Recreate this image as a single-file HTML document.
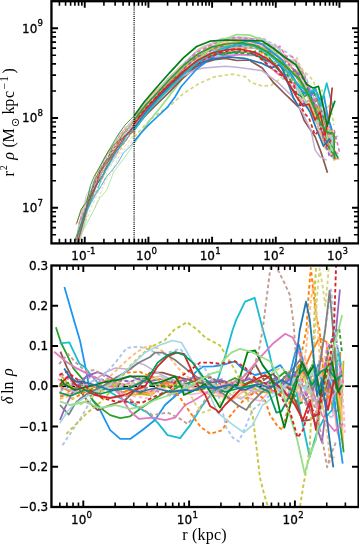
<!DOCTYPE html><html><head><meta charset="utf-8"><title>r (kpc)</title><style>html,body{margin:0;padding:0;background:#fff}svg{display:block}</style></head><body><svg width="359" height="544" viewBox="0 0 359 544"><defs><clipPath id="c1"><rect x="51.45" y="1.20" width="307.15" height="242.20"/></clipPath><clipPath id="c2"><rect x="51.45" y="265.50" width="307.15" height="241.50"/></clipPath></defs><rect width="359" height="544" fill="#fff"/><g fill="none" stroke-linejoin="round" stroke-linecap="butt">
<g clip-path="url(#c1)">
<polyline points="75.8,255.3 83.6,229.1 87.7,208.2 94.0,191.0 100.3,176.2 107.1,165.3 112.0,153.0 120.4,147.9 125.4,136.0 130.9,129.7 134.2,126.0" stroke="rgb(174,199,232)" stroke-width="0.75"/>
<polyline points="134.2,126.0 137.0,122.7 143.1,114.8 149.2,108.0 155.3,102.6 161.4,96.9 167.5,90.5 173.6,84.2 179.7,78.6 185.8,73.2 191.9,68.9 198.0,63.6 204.1,60.7 210.2,58.5 216.3,56.8 222.4,55.8 228.5,54.9 234.6,55.3 240.7,54.4 246.8,55.5 252.9,55.2 259.0,56.0 265.1,59.3 271.2,64.1 277.3,68.8 283.4,77.3 289.5,84.5 295.6,88.5 301.7,92.7 307.6,85.5 312.2,91.6 316.8,109.0 322.0,134.3 325.9,149.4 329.7,145.9 336.1,153.1" stroke="rgb(174,199,232)" stroke-width="1.70"/>
<polyline points="75.9,224.7 82.9,206.4 92.3,190.8 95.7,174.5 103.7,160.2 108.4,150.9 116.9,142.2 121.8,135.0 127.3,128.3 133.4,122.3 134.2,121.3" stroke="rgb(255,127,14)" stroke-width="0.75"/>
<polyline points="134.2,121.3 139.5,115.1 145.6,106.1 151.7,99.1 157.8,91.9 163.9,85.5 170.0,80.6 176.1,73.9 182.2,67.8 188.3,61.8 194.4,56.2 200.5,52.9 206.6,49.1 212.7,46.3 218.8,45.0 224.9,43.5 231.0,42.9 237.1,41.6 243.2,39.8 249.3,40.8 255.4,42.0 261.5,44.2 267.6,44.1 273.7,54.7 279.8,51.2 285.9,58.9 292.0,63.1 298.1,66.5 304.2,80.4 308.9,92.3 315.3,112.3 319.4,121.0 325.2,147.2 330.0,148.3 334.6,155.4" stroke="rgb(255,127,14)" stroke-width="1.70"/>
<polyline points="77.2,237.3 83.8,211.9 89.6,199.6 95.7,182.9 99.1,172.3 107.2,160.9 111.8,151.0 118.7,137.4 125.0,128.2 131.1,121.4 134.2,117.5" stroke="rgb(255,187,120)" stroke-width="0.75"/>
<polyline points="134.2,117.5 137.2,113.8 143.3,106.7 149.4,97.4 155.5,91.2 161.6,85.7 167.7,78.7 173.8,73.5 179.9,66.6 186.0,62.2 192.1,56.0 198.2,49.6 204.3,46.3 210.4,44.0 216.5,42.9 222.6,41.9 228.7,40.8 234.8,39.7 240.9,39.5 247.0,39.7 253.1,40.5 259.2,42.5 265.3,46.1 271.4,53.1 277.5,56.5 283.6,64.1 289.7,65.7 295.8,72.0 301.9,68.3 306.3,88.0 310.5,94.6 314.6,113.4 318.8,128.5 324.2,147.2 328.5,129.9 334.1,158.8 339.5,159.0" stroke="rgb(255,187,120)" stroke-width="1.70"/>
<polyline points="77.2,240.9 82.1,218.9 87.6,205.8 94.1,184.8 100.4,174.6 105.8,162.8 112.4,156.4 118.9,144.0 125.1,135.5 131.2,129.1 134.2,126.1" stroke="rgb(255,152,150)" stroke-width="0.75"/>
<polyline points="134.2,126.1 137.3,123.0 143.4,114.0 149.5,106.5 155.6,99.0 161.7,92.4 167.8,86.6 173.9,80.2 180.0,73.1 186.1,66.2 192.2,60.7 198.3,56.4 204.4,52.4 210.5,49.4 216.6,45.7 222.7,45.6 228.8,43.1 234.9,41.9 241.0,42.3 247.1,43.1 253.2,44.2 259.3,44.5 265.4,47.3 271.5,50.4 277.6,50.8 283.7,58.5 289.8,64.0 295.9,74.7 302.0,83.7 307.7,92.8 313.6,102.6 317.4,107.2 321.6,126.1 325.7,142.5 332.1,149.2 338.1,153.8" stroke="rgb(255,152,150)" stroke-width="1.70"/>
<polyline points="77.5,245.5 82.7,219.9 88.8,198.4 93.5,185.9 100.4,175.8 104.6,163.2 112.4,155.0 118.1,143.3 125.4,134.1 131.5,128.6 134.2,125.0" stroke="rgb(148,103,189)" stroke-width="0.75"/>
<polyline points="134.2,125.0 137.6,120.5 143.7,113.4 149.8,105.9 155.9,99.3 162.0,92.7 168.1,87.2 174.2,83.3 180.3,76.9 186.4,71.2 192.5,65.3 198.6,61.6 204.7,59.2 210.8,54.9 216.9,52.4 223.0,53.6 229.1,52.5 235.2,51.5 241.3,51.6 247.4,52.2 253.5,53.3 259.6,53.6 265.7,60.6 271.8,61.8 277.9,62.3 284.0,65.7 290.1,72.0 296.2,76.7 302.3,85.9 308.6,91.8 314.2,110.9 318.3,114.0 324.6,118.9 329.4,148.9 333.7,137.6" stroke="rgb(148,103,189)" stroke-width="1.70"/>
<polyline points="75.6,240.3 81.1,214.7 86.5,198.5 94.2,184.5 99.2,169.9 104.6,157.0 112.5,146.4 119.7,134.4 124.2,129.7 130.7,123.2 134.2,119.0" stroke="rgb(196,156,148)" stroke-width="0.75"/>
<polyline points="134.2,119.0 136.8,115.9 142.9,108.1 149.0,101.8 155.1,95.5 161.2,89.6 167.3,82.0 173.4,76.0 179.5,70.9 185.6,66.8 191.7,60.7 197.8,55.9 203.9,52.6 210.0,50.2 216.1,49.8 222.2,48.3 228.3,48.7 234.4,47.4 240.5,47.2 246.6,45.6 252.7,45.8 258.8,49.2 264.9,50.3 271.0,53.4 277.1,61.8 283.2,63.0 289.3,66.5 295.4,70.4 301.5,82.4 306.3,90.9 312.5,102.0 317.6,100.8 323.2,126.4 326.7,140.7 330.8,155.9" stroke="rgb(196,156,148)" stroke-width="1.70"/>
<polyline points="77.8,245.1 83.1,222.2 89.9,204.3 95.4,187.3 101.8,172.9 107.9,164.6 115.1,157.6 119.7,147.1 126.9,139.5 133.0,130.0 134.2,128.6" stroke="rgb(227,119,194)" stroke-width="0.75"/>
<polyline points="134.2,128.6 139.1,122.6 145.2,115.6 151.3,107.7 157.4,100.2 163.5,94.3 169.6,89.0 175.7,84.0 181.8,78.0 187.9,71.5 194.0,66.2 200.1,62.9 206.2,59.2 212.3,57.7 218.4,58.4 224.5,55.6 230.6,56.1 236.7,54.4 242.8,54.6 248.9,55.0 255.0,55.0 261.1,57.7 267.2,65.0 273.3,69.8 279.4,75.2 285.5,75.2 291.6,81.1 297.7,89.4 303.8,102.3 309.4,100.6 315.8,99.9 320.6,101.4 325.3,111.6 330.7,125.9 335.5,159.2" stroke="rgb(227,119,194)" stroke-width="1.70"/>
<polyline points="78.5,236.6 84.7,218.1 90.6,200.9 93.9,180.4 101.9,171.6 108.2,158.3 113.6,150.1 119.4,141.1 126.1,132.9 132.2,125.8 134.2,123.0" stroke="rgb(247,182,210)" stroke-width="0.75"/>
<polyline points="134.2,123.0 138.3,117.4 144.4,110.8 150.5,101.8 156.6,95.4 162.7,87.7 168.8,81.0 174.9,74.9 181.0,69.5 187.1,64.6 193.2,58.3 199.3,54.4 205.4,51.6 211.5,48.4 217.6,47.1 223.7,44.6 229.8,43.7 235.9,43.7 242.0,42.9 248.1,41.4 254.2,42.9 260.3,45.5 266.4,46.6 272.5,44.6 278.6,53.2 284.7,54.6 290.8,63.9 296.9,66.5 303.0,84.1 307.5,97.0 313.6,109.4 317.6,107.9 323.9,132.9 328.8,126.9 334.5,152.1" stroke="rgb(247,182,210)" stroke-width="1.70"/>
<polyline points="76.1,244.7 80.2,220.5 88.0,206.3 95.3,188.4 99.3,178.8 104.3,164.2 111.7,154.9 118.2,146.7 123.9,136.9 130.4,129.3 134.2,126.0" stroke="rgb(127,127,127)" stroke-width="0.75"/>
<polyline points="134.2,126.0 136.5,124.0 142.6,115.5 148.7,108.8 154.8,101.1 160.9,95.0 167.0,89.3 173.1,82.6 179.2,75.9 185.3,72.2 191.4,65.8 197.5,60.7 203.6,56.8 209.7,53.3 215.8,52.3 221.9,50.5 228.0,49.1 234.1,46.1 240.2,46.7 246.3,47.5 252.4,48.0 258.5,48.6 264.6,53.1 270.7,55.9 276.8,60.8 282.9,67.4 289.0,73.9 295.1,70.2 301.2,81.8 305.7,87.8 310.6,94.3 314.1,92.7 318.2,100.9 322.8,114.1 327.6,133.9 332.3,133.6 335.9,138.9" stroke="rgb(127,127,127)" stroke-width="1.70"/>
<polyline points="76.3,239.2 82.6,213.9 85.8,196.0 94.4,181.9 101.6,171.4 105.0,158.0 111.4,150.4 118.0,142.7 124.9,133.4 130.7,125.1 134.2,119.9" stroke="rgb(199,199,199)" stroke-width="0.75"/>
<polyline points="134.2,119.9 136.8,116.0 142.9,109.5 149.0,101.6 155.1,94.4 161.2,86.6 167.3,79.3 173.4,73.3 179.5,68.4 185.6,61.7 191.7,56.2 197.8,50.5 203.9,47.0 210.0,44.4 216.1,41.6 222.2,38.5 228.3,38.7 234.4,37.6 240.5,37.3 246.6,37.6 252.7,38.8 258.8,38.1 264.9,40.1 271.0,45.1 277.1,47.1 283.2,56.5 289.3,59.9 295.4,60.7 301.5,72.7 306.7,89.8 311.8,106.2 317.2,124.0 321.2,139.8 327.6,146.7 334.0,159.7" stroke="rgb(199,199,199)" stroke-width="1.70"/>
<polyline points="77.8,247.2 83.8,223.8 88.3,206.0 94.0,188.8 100.5,174.9 108.3,164.4 113.9,153.4 118.6,140.6 125.7,134.9 131.8,129.4 134.2,126.5" stroke="rgb(188,189,34)" stroke-width="0.75"/>
<polyline points="134.2,126.5 137.9,122.2 144.0,114.2 150.1,104.8 156.2,97.5 162.3,89.3 168.4,83.9 174.5,78.3 180.6,71.9 186.7,65.6 192.8,60.9 198.9,56.5 205.0,52.9 211.1,49.8 217.2,47.9 223.3,46.5 229.4,45.7 235.5,45.3 241.6,44.9 247.7,43.7 253.8,44.8 259.9,47.0 266.0,48.8 272.1,53.4 278.2,55.6 284.3,66.1 290.4,71.2 296.5,75.8 302.6,87.4 308.8,96.8 313.9,116.7 317.8,105.9 321.6,120.1 327.5,130.9 331.5,129.4 335.2,142.8" stroke="rgb(188,189,34)" stroke-width="1.70"/>
<polyline points="73.6,251.2 83.1,230.1 88.1,209.5 92.6,193.6 101.3,180.9 106.3,170.7 111.8,163.0 119.7,148.8 124.6,139.7 130.6,134.6 134.2,130.2" stroke="rgb(158,218,229)" stroke-width="0.75"/>
<polyline points="134.2,130.2 136.7,127.1 142.8,118.5 148.9,110.1 155.0,103.4 161.1,98.1 167.2,89.9 173.3,82.2 179.4,76.3 185.5,69.7 191.6,64.4 197.7,59.2 203.8,56.1 209.9,53.3 216.0,51.2 222.1,50.4 228.2,47.9 234.3,47.5 240.4,47.7 246.5,46.9 252.6,47.4 258.7,49.4 264.8,51.9 270.9,60.0 277.0,64.2 283.1,79.2 289.2,78.0 295.3,81.3 301.4,102.3 306.5,107.4 312.2,106.0 317.9,112.8 323.4,136.2 329.3,153.2 332.9,137.8 338.0,136.1" stroke="rgb(158,218,229)" stroke-width="1.70"/>
<polyline points="76.6,245.7 82.2,226.7 88.5,202.7 94.1,186.7 101.7,178.8 106.0,169.2 111.8,157.8 117.9,149.3 125.2,141.3 131.0,132.4 134.2,127.3" stroke="rgb(0,155,100)" stroke-width="0.75"/>
<polyline points="134.2,127.3 137.1,122.7 143.2,115.4 149.3,106.4 155.4,99.2 161.5,93.1 167.6,89.5 173.7,83.1 179.8,76.4 185.9,71.6 192.0,68.3 198.1,62.4 204.2,58.1 210.3,55.4 216.4,54.2 222.5,54.7 228.6,53.2 234.7,52.4 240.8,51.7 246.9,51.6 253.0,54.5 259.1,56.7 265.2,60.3 271.3,60.5 277.4,68.7 283.5,74.7 289.6,86.0 295.7,93.1 301.8,96.9 307.8,88.2 313.1,101.2 318.9,120.0 322.8,116.2 328.0,140.1 333.1,148.7 338.2,158.4" stroke="rgb(0,155,100)" stroke-width="1.70"/>
<polyline points="78.3,226.8 85.6,204.9 91.6,184.6 97.6,174.6 102.8,160.6 109.8,151.1 115.2,143.3 120.0,131.7 127.7,125.2 133.8,119.0 134.2,118.6" stroke="rgb(174,199,232)" stroke-width="0.75" stroke-dasharray="3 2"/>
<polyline points="134.2,118.6 139.9,111.7 146.0,103.7 152.1,97.3 158.2,90.4 164.3,84.5 170.4,78.1 176.5,72.3 182.6,64.9 188.7,58.9 194.8,52.8 200.9,49.4 207.0,46.9 213.1,45.1 219.2,42.7 225.3,40.5 231.4,40.1 237.5,38.9 243.6,37.9 249.7,38.9 255.8,38.9 261.9,37.3 268.0,41.6 274.1,43.6 280.2,49.3 286.3,52.0 292.4,57.9 298.5,63.3 304.6,73.8 311.0,89.8 314.6,91.9 319.5,102.7 325.4,121.4 330.7,136.5 334.5,160.3" stroke="rgb(174,199,232)" stroke-width="1.70" stroke-dasharray="3.6 2.6"/>
<polyline points="88.3,205.8 94.9,193.3 101.2,180.9 106.9,168.6 113.2,157.1 119.5,151.1 125.5,141.4 131.6,132.9 134.2,129.7" stroke="rgb(255,127,14)" stroke-width="0.75" stroke-dasharray="3 2"/>
<polyline points="134.2,129.7 137.7,125.5 143.8,117.0 149.9,108.6 156.0,102.0 162.1,95.0 168.2,89.5 174.3,81.7 180.4,77.1 186.5,70.5 192.6,65.2 198.7,60.2 204.8,55.9 210.9,54.1 217.0,51.3 223.1,50.4 229.2,49.0 235.3,48.1 241.4,48.7 247.5,47.9 253.6,46.4 259.7,49.9 265.8,57.1 271.9,56.2 278.0,60.1 284.1,66.4 290.2,75.8 296.3,85.1 302.4,91.4 308.1,92.9 313.2,100.5 319.4,117.2 324.5,116.6 329.9,150.8 336.2,159.1" stroke="rgb(255,127,14)" stroke-width="1.70" stroke-dasharray="3.6 2.6"/>
<polyline points="94.8,208.1 100.3,193.7 105.1,181.4 112.1,172.3 118.8,156.8 125.0,148.8 130.8,143.7 134.2,134.0" stroke="rgb(255,187,120)" stroke-width="0.75" stroke-dasharray="3 2"/>
<polyline points="134.2,134.0 136.9,126.4 143.0,117.8 149.1,109.0 155.2,101.9 161.3,96.0 167.4,90.1 173.5,84.7 179.6,78.9 185.7,72.6 191.8,66.3 197.9,60.5 204.0,58.1 210.1,55.6 216.2,53.3 222.3,53.8 228.4,52.0 234.5,50.1 240.6,50.7 246.7,52.0 252.8,51.8 258.9,52.4 265.0,55.3 271.1,61.8 277.2,64.0 283.3,67.3 289.4,76.5 295.5,90.1 301.6,100.8 307.2,93.0 313.2,112.5 317.7,127.1 324.0,146.3 330.3,151.7 334.6,160.8" stroke="rgb(255,187,120)" stroke-width="1.70" stroke-dasharray="3.6 2.6"/>
<polyline points="77.2,238.8 84.6,214.9 90.3,198.6 96.5,182.9 101.3,169.9 107.7,160.7 114.8,148.5 121.7,143.1 126.9,135.0 133.0,128.3 134.2,126.5" stroke="rgb(44,160,44)" stroke-width="0.75" stroke-dasharray="3 2"/>
<polyline points="134.2,126.5 139.1,119.0 145.2,110.5 151.3,103.7 157.4,96.5 163.5,89.9 169.6,83.9 175.7,76.8 181.8,72.7 187.9,68.1 194.0,63.2 200.1,59.5 206.2,57.1 212.3,55.5 218.4,53.8 224.5,52.8 230.6,52.5 236.7,53.2 242.8,53.1 248.9,53.8 255.0,51.4 261.1,51.4 267.2,55.2 273.3,63.3 279.4,65.5 285.5,71.3 291.6,82.2 297.7,83.1 303.8,96.7 310.1,92.6 314.0,91.4 318.9,120.2 325.0,131.8 329.6,149.9 334.4,154.2" stroke="rgb(44,160,44)" stroke-width="1.70" stroke-dasharray="3.6 2.6"/>
<polyline points="78.5,223.7 86.4,204.2 91.3,189.7 98.3,173.7 103.1,163.6 108.5,153.6 115.0,145.0 120.3,134.9 127.4,127.4 133.5,121.1 134.2,120.1" stroke="rgb(227,119,194)" stroke-width="0.75" stroke-dasharray="3 2"/>
<polyline points="134.2,120.1 139.6,112.0 145.7,105.0 151.8,98.4 157.9,92.5 164.0,86.3 170.1,78.6 176.2,73.2 182.3,66.7 188.4,60.3 194.5,53.9 200.6,50.5 206.7,47.5 212.8,44.0 218.9,42.2 225.0,40.0 231.1,38.5 237.2,37.3 243.3,38.3 249.4,38.5 255.5,39.6 261.6,40.4 267.7,43.3 273.8,48.9 279.9,46.4 286.0,56.3 292.1,56.4 298.2,64.4 304.3,75.6 310.6,92.3 314.4,95.9 319.4,123.1 324.0,121.7 328.3,126.1 334.1,130.1 339.6,152.3" stroke="rgb(227,119,194)" stroke-width="1.70" stroke-dasharray="3.6 2.6"/>
<polyline points="80.7,220.2 87.6,202.8 93.4,184.4 99.1,174.3 103.9,163.9 113.1,149.4 119.2,142.2 122.1,134.2 130.2,128.6 134.2,124.0" stroke="rgb(148,103,189)" stroke-width="0.75" stroke-dasharray="3 2"/>
<polyline points="134.2,124.0 136.3,121.6 142.4,112.9 148.5,105.4 154.6,99.1 160.7,91.6 166.8,85.6 172.9,80.7 179.0,74.8 185.1,67.5 191.2,62.3 197.3,56.4 203.4,54.7 209.5,51.6 215.6,47.5 221.7,46.1 227.8,46.9 233.9,45.6 240.0,45.8 246.1,45.1 252.2,45.2 258.3,46.3 264.4,50.7 270.5,51.9 276.6,54.0 282.7,60.5 288.8,64.1 294.9,70.5 301.0,75.8 306.4,83.6 312.2,99.2 318.2,119.7 324.5,141.2 329.9,157.4 333.8,154.5" stroke="rgb(148,103,189)" stroke-width="1.70" stroke-dasharray="3.6 2.6"/>
<polyline points="78.9,240.3 85.1,224.4 91.2,207.4 98.2,192.2 102.9,183.6 107.7,170.5 113.9,161.2 120.4,151.8 126.4,144.5 132.4,136.2 134.2,137.0" stroke="rgb(214,214,125)" stroke-width="0.75" stroke-dasharray="3 2"/>
<polyline points="134.2,137.0 145.0,125.0 155.0,115.5 170.0,105.7 183.4,93.5 199.0,83.5 214.5,76.8 232.4,74.1 245.7,76.8 251.0,82.4 262.3,86.1 271.2,85.3 280.0,79.0 289.0,67.9 296.8,57.9 300.0,67.9 309.0,75.7 313.5,81.2 318.0,95.0 322.0,90.0 326.0,110.0 330.0,104.0 334.0,125.0" stroke="rgb(214,214,125)" stroke-width="1.70" stroke-dasharray="3.6 2.6"/>
<polyline points="84.0,229.0 100.0,197.9 106.8,190.0 113.5,172.3 126.8,154.5 134.2,143.0" stroke="rgb(152,223,138)" stroke-width="0.75"/>
<polyline points="134.2,143.0 141.0,133.0 150.0,120.0 160.0,108.0 170.0,95.0 183.0,78.0 196.0,62.0 210.0,49.0 225.7,38.9 236.8,34.5 250.0,35.1 262.0,40.0 273.0,50.0 284.0,62.0 294.0,78.0 302.0,95.0 310.0,108.0 316.0,122.0 322.0,118.0 328.0,140.0 333.0,152.0" stroke="rgb(152,223,138)" stroke-width="1.70"/>
<polyline points="77.1,237.1 83.3,218.3 89.9,203.0 96.2,186.0 103.4,173.8 107.5,163.2 115.6,151.1 119.3,141.8 126.7,134.6 132.7,132.7 134.2,129.0" stroke="rgb(140,86,75)" stroke-width="0.75"/>
<polyline points="134.2,129.0 145.0,116.0 155.0,106.0 170.0,91.3 183.0,78.0 196.0,67.0 205.0,62.5 214.5,59.6 225.7,58.3 236.8,60.5 250.0,60.0 251.0,61.2 262.3,67.9 273.4,82.4 284.5,93.5 291.0,99.6 299.8,108.4 304.2,120.5 308.4,126.7 315.1,136.7 320.9,151.8 327.5,172.7" stroke="rgb(140,86,75)" stroke-width="1.70"/>
<polyline points="79.3,235.7 84.5,215.9 90.9,194.4 97.1,179.8 101.6,173.6 106.5,164.6 116.1,154.3 118.5,147.4 126.2,134.7 132.2,125.8 134.2,126.0" stroke="rgb(197,176,213)" stroke-width="0.75"/>
<polyline points="134.2,126.0 145.0,112.0 156.0,100.0 170.0,87.0 183.0,76.0 195.0,70.0 203.4,67.9 225.7,66.3 236.8,67.2 250.0,69.0 262.3,70.8 277.9,82.4 291.2,95.2 302.0,111.7 310.9,130.0 315.1,150.1 320.1,156.8 326.8,160.2" stroke="rgb(197,176,213)" stroke-width="1.50"/>
<polyline points="76.1,252.6 81.8,225.3 87.2,210.0 96.1,193.8 100.5,186.9 106.4,177.0 112.3,169.9 118.0,162.8 123.0,153.5 130.7,145.9 134.2,141.3" stroke="rgb(31,150,238)" stroke-width="0.75"/>
<polyline points="134.2,141.3 141.0,133.0 147.9,125.7 157.0,117.0 166.8,107.9 175.0,97.0 181.0,86.8 196.7,69.0 214.5,55.6 228.0,47.8 241.3,42.3 250.0,41.0 262.0,44.0 272.0,52.0 282.0,60.0 290.0,72.0 297.0,84.0 303.0,92.0 310.8,96.0 315.2,88.6 320.0,100.0 324.0,96.0 328.0,118.0 332.0,130.0" stroke="rgb(31,150,238)" stroke-width="1.70"/>
<polyline points="78.3,233.3 84.1,214.1 90.5,197.5 95.7,186.7 102.3,175.9 109.8,162.6 113.8,155.2 121.6,143.4 126.4,135.1 132.4,128.3 134.2,128.0" stroke="rgb(31,119,180)" stroke-width="0.75"/>
<polyline points="134.2,128.0 146.0,112.0 158.0,98.0 170.0,86.0 184.0,73.0 198.0,64.0 212.0,59.0 228.0,57.0 244.5,58.3 262.3,63.4 271.2,67.9 280.0,64.5 284.5,73.5 293.5,98.0 298.0,105.7 304.6,103.5 310.0,112.0 316.0,128.0 323.4,146.0 330.1,138.4" stroke="rgb(31,119,180)" stroke-width="1.70"/>
<polyline points="76.0,240.6 83.5,219.1 88.6,199.7 95.4,181.7 100.3,171.8 106.0,160.1 113.8,148.3 118.4,141.3 125.0,135.7 131.0,129.6 134.2,123.0" stroke="rgb(214,39,40)" stroke-width="0.75" stroke-dasharray="3 2"/>
<polyline points="134.2,123.0 146.0,108.0 158.0,95.0 170.0,84.0 181.0,75.0 192.3,67.9 203.4,59.6 219.0,53.0 234.6,49.4 250.0,51.2 262.3,60.0 273.4,69.0 284.5,78.0 293.5,84.6 300.0,104.6 304.6,113.5 309.0,118.0 315.0,135.0 321.0,128.0 327.0,146.0 331.0,140.0" stroke="rgb(214,39,40)" stroke-width="1.70" stroke-dasharray="3.6 2.6"/>
<polyline points="78.1,234.1 84.5,216.1 91.2,200.6 98.1,189.5 101.6,176.8 109.0,165.2 115.1,153.9 121.7,144.9 126.8,136.2 132.8,128.7 134.2,130.0" stroke="rgb(23,190,207)" stroke-width="0.75"/>
<polyline points="134.2,130.0 146.0,114.0 158.0,100.0 170.0,88.0 184.0,74.0 198.0,62.0 212.0,53.0 226.0,47.0 240.0,44.0 254.0,46.0 266.0,52.0 278.0,62.0 290.0,75.0 300.0,86.0 308.6,93.0 315.2,88.6 320.7,106.2 326.7,83.1 332.9,107.3" stroke="rgb(23,190,207)" stroke-width="1.70"/>
<polyline points="77.6,242.3 83.5,221.4 87.9,202.3 96.7,183.8 100.1,171.4 107.2,163.0 112.5,153.5 118.8,146.1 125.0,136.0 130.6,131.6 134.2,124.0" stroke="rgb(214,39,40)" stroke-width="0.75"/>
<polyline points="134.2,124.0 146.0,109.0 158.0,96.0 170.0,84.0 184.0,71.0 198.0,60.0 212.0,53.0 226.0,50.0 240.0,49.0 254.0,52.0 266.0,58.0 278.0,68.0 288.0,82.0 296.0,96.0 303.0,106.0 309.0,104.0 315.0,120.0 320.0,112.0 325.0,135.0 329.5,115.0 332.2,87.5" stroke="rgb(214,39,40)" stroke-width="1.70"/>
<polyline points="76.7,223.5 81.2,209.0 86.7,202.3 90.4,185.5 94.2,176.3 100.3,165.6 108.0,151.8 117.9,135.0 125.0,125.0 134.2,115.7" stroke="rgb(0,128,20)" stroke-width="0.75"/>
<polyline points="134.2,115.7 145.0,101.0 155.7,88.5 170.0,72.3 183.4,57.9 196.7,46.5 210.0,41.2 225.7,40.0 250.0,40.5 262.0,41.0 273.0,48.0 284.5,57.0 295.7,64.5 300.0,72.0 306.8,84.6 313.0,88.0 318.5,86.4 323.0,105.0 327.3,126.0 331.0,112.0 335.0,100.7" stroke="rgb(0,128,20)" stroke-width="1.70"/>
<polyline points="75.2,239.2 83.1,219.2 88.6,200.9 94.6,179.9 101.4,167.3 108.2,157.7 112.7,145.9 119.2,140.0 125.0,131.6 131.0,125.6 134.2,120.0" stroke="rgb(44,160,44)" stroke-width="0.75"/>
<polyline points="134.2,120.0 146.0,105.0 158.0,92.0 170.0,79.0 184.0,65.0 198.0,54.0 212.0,47.0 226.0,44.0 240.0,43.0 254.0,45.0 266.0,51.0 278.0,60.0 290.0,70.0 300.0,80.0 308.0,94.0 315.0,110.0 321.0,124.0 327.0,132.0 334.0,133.7 334.3,159.3" stroke="rgb(44,160,44)" stroke-width="1.70"/>
</g>
<path d="M134.1 1.2V243.4" stroke="#000" stroke-width="1.3" stroke-dasharray="1.0 1.1"/>
<g clip-path="url(#c2)">
<path d="M51.5 386.25H358.6" stroke="#000" stroke-width="1.7" stroke-dasharray="5.6 3.3"/>
<polyline points="58.2,379.0 68.3,385.6 78.3,393.3 88.4,391.9 98.4,390.7 108.5,384.0 118.5,382.8 128.6,385.3 138.6,389.3 148.7,393.5 158.7,390.1 168.8,383.7 178.8,382.9 188.9,391.2 198.9,386.4 209.0,386.9 219.0,393.8 229.1,385.4 239.1,388.3 249.2,395.0 259.2,388.9 269.3,389.7 279.3,395.3 286.6,387.1 292.8,391.3 299.4,384.0 304.4,362.9 311.5,379.5 318.6,417.0 325.7,360.2 331.6,385.4 337.3,432.3 340.1,440.2" stroke="rgb(255,152,150)" stroke-width="1.80"/>
<polyline points="59.4,384.6 69.5,384.0 79.5,385.7 89.6,390.7 99.6,390.1 109.7,384.9 119.7,384.6 129.8,384.2 139.8,383.6 149.9,381.4 159.9,383.5 170.0,385.3 180.0,390.9 190.1,394.6 200.1,393.0 210.2,391.1 220.2,394.5 230.3,398.0 240.3,397.1 250.4,398.4 260.4,401.1 270.5,390.1 280.5,395.2 287.5,378.9 293.2,386.3 298.7,399.1 306.2,364.9 312.8,397.6 320.8,373.6 326.3,412.5 334.0,367.8 340.3,401.5 340.4,355.3" stroke="rgb(247,182,210)" stroke-width="1.60"/>
<polyline points="60.0,398.9 70.0,391.0 80.1,384.3 90.1,383.6 100.2,390.4 110.2,383.8 120.3,379.3 130.3,381.5 140.4,378.6 150.4,378.1 160.5,376.0 170.5,381.7 180.6,387.6 190.6,387.3 200.7,383.1 210.7,383.3 220.8,387.0 230.8,394.2 240.9,399.2 250.9,391.7 261.0,383.9 271.0,390.8 281.1,396.2 286.7,401.3 294.2,376.8 300.3,370.5 306.7,368.3 313.2,406.8 319.3,404.3 326.1,413.0 331.3,417.7 339.1,407.5 341.3,412.3" stroke="rgb(199,199,199)" stroke-width="1.60"/>
<polyline points="60.1,374.6 70.2,386.1 80.2,392.9 90.3,389.7 100.3,390.3 110.4,382.9 120.4,391.8 130.5,394.8 140.5,394.1 150.6,395.4 160.6,388.1 170.7,385.5 180.7,383.0 190.8,386.5 200.8,381.5 210.9,389.7 220.9,388.6 231.0,387.7 241.0,382.4 251.1,387.3 261.1,392.1 271.2,392.4 281.2,387.1 287.9,397.4 294.7,384.0 302.7,367.6 307.8,392.4 313.9,379.4 321.6,371.1 329.2,392.6 335.2,348.2 341.0,419.6 343.5,360.7" stroke="rgb(188,189,34)" stroke-width="1.80"/>
<polyline points="58.9,385.5 68.9,391.3 79.0,385.7 89.0,394.0 99.1,392.9 109.1,385.4 119.2,393.4 129.2,390.1 139.3,393.4 149.3,392.4 159.4,385.8 169.4,382.1 179.5,380.4 189.5,379.6 199.6,377.6 209.6,376.3 219.7,388.1 229.7,383.2 239.8,386.1 249.8,382.4 259.9,381.5 269.9,388.7 280.0,395.4 286.4,378.2 292.1,399.4 298.0,408.8 304.6,368.6 312.0,351.2 319.4,338.0 326.5,341.8 332.5,411.7 339.0,410.7 340.2,352.1" stroke="rgb(255,127,14)" stroke-width="1.80"/>
<polyline points="60.5,394.0 70.6,393.8 80.6,389.8 90.7,393.6 100.7,385.9 110.8,387.9 120.8,393.1 130.9,395.3 140.9,387.9 151.0,393.5 161.0,388.6 171.1,393.6 181.1,392.2 191.2,386.7 201.2,391.4 211.3,395.3 221.3,396.1 231.4,400.3 241.4,392.9 251.5,388.2 261.5,384.1 271.6,387.1 281.6,387.0 287.4,398.3 294.1,380.7 300.4,402.3 307.8,390.9 313.9,379.8 321.8,355.5 329.5,404.7 335.1,378.8 341.8,413.7 343.3,449.3" stroke="rgb(255,187,120)" stroke-width="1.80"/>
<polyline points="58.8,375.2 68.9,379.1 78.9,383.1 89.0,377.9 99.0,382.4 109.1,389.0 119.1,393.0 129.2,395.7 139.2,397.1 149.3,398.5 159.3,386.6 169.4,391.6 179.4,385.6 189.5,382.6 199.5,382.8 209.6,389.9 219.6,389.2 229.7,385.3 239.7,383.2 249.8,389.4 259.8,392.0 269.9,383.9 279.9,380.7 287.3,393.3 292.7,388.7 298.8,368.0 305.0,356.3 310.7,394.7 317.7,403.5 323.0,364.6 328.0,341.9 333.3,416.6 341.0,364.5 344.9,432.8" stroke="rgb(247,182,210)" stroke-width="1.90" stroke-dasharray="3.6 2.6"/>
<polyline points="59.7,385.5 69.8,382.5 79.8,385.0 89.9,388.6 99.9,387.7 110.0,391.5 120.0,383.9 130.1,386.2 140.1,392.9 150.2,385.2 160.2,385.4 170.3,387.5 180.3,384.6 190.4,391.6 200.4,389.2 210.5,387.6 220.5,392.6 230.6,383.1 240.6,389.4 250.7,382.8 260.7,382.4 270.8,383.7 280.8,384.2 286.5,372.2 292.6,390.4 298.4,404.2 305.5,400.8 313.2,363.9 318.8,408.1 326.5,359.2 333.8,332.5 339.2,328.3 342.1,353.6" stroke="rgb(44,160,44)" stroke-width="1.90" stroke-dasharray="3.6 2.6"/>
<polyline points="60.7,389.7 70.8,385.8 80.8,379.6 90.9,376.0 100.9,379.4 111.0,382.5 121.0,380.7 131.1,381.4 141.1,377.9 151.2,383.6 161.2,383.3 171.3,379.8 181.3,382.5 191.4,380.0 201.4,379.7 211.5,377.1 221.5,384.8 231.6,382.4 241.6,390.4 251.7,387.5 261.7,382.3 271.8,386.8 281.8,390.0 288.4,396.8 293.9,371.8 300.4,374.4 306.3,396.9 313.3,363.2 320.0,399.8 327.7,349.8 335.1,331.8 341.9,376.8" stroke="rgb(148,103,189)" stroke-width="1.90" stroke-dasharray="3.6 2.6"/>
<polyline points="60.9,373.6 70.9,381.2 81.0,380.1 91.0,387.7 101.1,381.1 111.1,381.3 121.2,386.4 131.2,382.2 141.3,386.5 151.3,389.9 161.4,392.4 171.4,395.9 181.5,391.5 191.5,385.1 201.6,382.9 211.6,383.4 221.7,379.1 231.7,385.6 241.8,380.4 251.8,377.3 261.9,387.7 271.9,392.1 282.0,387.0 289.6,375.6 295.6,379.3 301.7,379.9 308.1,398.0 314.0,380.2 320.2,358.5 327.1,368.2 334.8,409.0 340.5,368.3 343.9,386.3" stroke="rgb(227,119,194)" stroke-width="1.90" stroke-dasharray="3.6 2.6"/>
<polyline points="64.4,287.1 74.5,322.0 80.1,341.0 84.3,361.7 87.1,375.1 88.5,384.0 91.0,398.0 100.1,410.1 110.2,430.1 120.2,438.9 130.2,438.9 142.5,430.0 155.0,420.0 165.0,405.0 176.4,395.0 187.0,388.0 195.0,372.6 202.6,366.7 213.5,366.4 222.5,365.0 235.0,361.3 242.6,368.8 255.0,375.0 268.0,372.0 280.2,365.1 289.0,377.6 295.2,352.6 299.0,345.0 305.0,370.0 312.0,390.0 318.0,365.0 325.0,395.0 332.0,380.0 339.5,440.0 342.7,463.6" stroke="rgb(31,150,238)" stroke-width="1.80"/>
<polyline points="55.9,327.2 61.1,343.0 66.7,354.2 73.4,368.4 83.4,380.1 92.6,400.0 100.1,407.6 110.2,415.1 120.2,418.1 130.2,416.3 140.0,409.0 152.6,400.0 165.1,392.5 175.0,388.8 185.0,384.0 195.0,381.0 205.0,385.0 215.0,380.0 225.0,383.0 235.0,378.0 245.0,384.0 255.0,379.0 265.0,386.0 275.0,380.0 285.0,372.0 292.0,380.0 300.0,365.0 307.0,375.0 314.0,362.0 320.0,392.0 327.0,366.0 334.0,371.0 337.0,400.0 343.7,452.4" stroke="rgb(44,160,44)" stroke-width="1.80"/>
<polyline points="59.6,343.4 69.3,342.3 79.3,363.4 85.1,367.6 91.8,376.0 98.5,383.5 110.0,392.0 120.0,398.0 130.0,403.0 147.5,412.6 157.6,422.6 167.6,435.1 180.1,438.1 190.2,425.1 202.7,405.0 212.7,392.5 218.8,376.4 226.3,352.6 232.6,330.0 236.3,319.6 245.1,301.6 254.6,297.8 262.6,328.4 268.9,351.3 273.9,373.9 280.0,392.0 288.0,380.0 296.0,390.0 302.3,422.0 309.7,457.0 317.0,432.0 323.3,419.8 332.0,410.0 335.8,390.0 338.0,350.0 341.0,365.0" stroke="rgb(23,190,207)" stroke-width="1.80"/>
<polyline points="60.4,351.7 66.7,366.8 75.1,383.5 87.6,401.3 97.6,410.1 110.2,405.0 125.2,400.0 137.5,388.0 150.0,372.6 162.6,372.6 175.1,376.4 190.0,380.0 205.0,383.0 220.0,381.0 235.0,384.0 245.0,380.1 255.1,363.8 263.9,380.0 272.7,373.9 282.7,382.6 290.0,390.0 297.3,405.0 302.3,421.0 309.7,419.8 319.6,412.3 323.3,397.4 328.0,380.0 334.0,395.0 340.0,375.0" stroke="rgb(140,86,75)" stroke-width="1.80"/>
<polyline points="54.2,351.7 65.1,360.9 76.8,368.4 86.8,373.4 100.2,380.1 106.9,381.8 118.0,392.0 130.0,411.3 138.8,418.8 152.6,417.6 165.1,420.1 175.1,417.6 185.1,405.0 192.7,401.3 202.7,395.0 215.0,388.0 228.0,384.0 240.0,380.0 247.6,372.6 260.0,357.6 272.7,343.8 285.2,333.8 292.7,337.5 296.5,345.0 302.0,362.0 308.0,380.0 314.0,395.0 322.0,415.0 327.0,422.0 334.5,431.0 343.2,423.5" stroke="rgb(227,119,194)" stroke-width="1.80"/>
<polyline points="60.0,420.1 65.0,407.6 72.6,392.5 77.6,386.3 86.2,376.4 97.4,372.2 105.7,375.0 115.0,380.0 130.0,376.0 145.0,382.0 160.0,379.0 175.0,383.0 190.0,378.0 205.0,382.0 220.0,380.0 235.0,384.0 250.0,379.0 262.0,385.0 275.0,378.0 285.0,384.0 295.0,374.0 303.0,395.0 310.0,410.0 316.0,425.0 322.0,442.5 328.0,390.0 336.2,328.0 339.9,289.5" stroke="rgb(148,103,189)" stroke-width="1.80"/>
<polyline points="59.7,392.1 65.0,388.0 75.0,392.0 85.0,385.0 95.0,380.0 105.7,372.2 115.5,368.0 130.8,369.5 137.5,362.6 145.0,365.1 155.0,371.4 168.0,378.0 180.0,383.0 195.0,388.0 210.0,385.0 225.0,390.0 240.0,386.0 255.0,392.0 268.0,384.0 280.0,390.0 292.0,382.0 300.0,396.0 308.0,388.0 316.0,402.0 324.0,390.0 332.0,398.0 340.0,385.0" stroke="rgb(197,176,213)" stroke-width="1.60"/>
<polyline points="62.5,445.2 75.1,426.4 82.6,415.1 92.0,398.0 103.0,376.4 115.5,362.5 126.6,348.0 139.1,346.6 150.0,350.0 160.0,355.0 170.0,352.0 180.0,348.8 192.7,362.6 205.0,368.8 215.0,385.0 220.0,400.0 226.3,427.6 232.6,437.6 238.8,441.4 245.1,427.6 252.6,410.0 260.0,403.8 270.0,395.0 280.0,388.0 290.0,392.0 300.0,380.0 310.0,395.0 318.0,370.0 325.0,330.0 331.1,289.5 334.0,317.0 338.0,360.0 342.0,390.0" stroke="rgb(174,199,232)" stroke-width="1.90" stroke-dasharray="3.6 2.6"/>
<polyline points="60.0,396.3 67.5,395.0 72.5,398.8 85.0,392.0 100.0,384.0 115.0,378.0 128.0,372.5 140.0,372.0 150.0,376.0 160.0,380.0 170.0,386.0 180.0,397.5 190.2,412.6 200.2,426.4 210.2,433.9 222.5,430.1 228.8,417.6 235.0,410.0 242.6,401.3 255.0,392.0 265.0,400.0 270.0,415.0 277.7,426.4 282.7,430.0 290.0,400.0 298.0,370.0 306.4,330.0 308.6,295.0 310.8,268.0 313.0,288.4 316.3,317.0 319.6,330.0 323.0,370.0 328.0,400.0 333.0,385.0 338.0,395.0" stroke="rgb(255,127,14)" stroke-width="1.90" stroke-dasharray="3.6 2.6"/>
<polyline points="59.9,398.9 70.0,396.0 85.0,390.0 100.0,384.0 105.7,380.0 113.3,373.4 122.3,364.5 132.3,355.6 143.4,347.8 150.0,346.0 160.0,349.0 170.0,358.0 180.0,370.0 190.0,379.0 200.0,381.0 215.0,386.0 230.0,382.0 245.0,388.0 260.0,383.0 275.0,390.0 288.0,384.0 298.0,392.0 306.0,350.0 311.0,300.0 314.0,280.0 318.0,330.0 322.0,400.0 328.3,442.0 329.6,462.3 335.8,454.9" stroke="rgb(255,187,120)" stroke-width="1.90" stroke-dasharray="3.6 2.6"/>
<polyline points="66.3,433.9 77.6,422.6 87.6,412.6 100.1,402.6 112.0,390.0 128.0,368.0 139.1,357.0 150.0,347.5 165.0,340.0 173.9,330.0 187.1,322.2 197.7,330.0 205.2,337.5 220.0,345.5 227.5,357.6 235.0,370.1 245.0,390.0 252.6,415.0 255.0,435.0 257.1,452.3 259.9,477.4 264.1,494.0 268.0,507.0 272.0,535.0 296.0,535.0 299.8,508.0 303.5,484.7 307.2,464.8 309.7,447.4 312.0,400.0 314.1,328.0 315.2,284.0 316.5,258.0" stroke="rgb(198,199,60)" stroke-width="1.90" stroke-dasharray="3.6 2.6"/>
<polyline points="59.2,393.1 65.0,395.0 72.6,397.5 80.0,405.0 90.0,398.0 100.0,392.0 115.0,388.0 130.0,384.0 145.0,380.0 160.0,378.0 175.0,382.0 186.4,387.5 195.2,403.8 202.7,412.6 212.7,408.8 220.0,402.6 230.0,395.0 242.0,388.0 255.0,380.0 268.0,375.0 280.0,368.0 290.0,372.0 297.0,388.0 303.0,375.0 309.0,395.0 314.0,350.0 317.5,290.0 319.6,268.6 323.0,288.4 325.2,306.0 327.4,284.0 329.6,258.0" stroke="rgb(214,214,125)" stroke-width="1.90" stroke-dasharray="3.6 2.6"/>
<polyline points="60.0,405.0 68.8,414.6 75.0,403.8 80.0,398.8 90.0,392.0 100.0,388.0 112.0,380.0 125.2,372.2 139.1,362.5 150.0,357.0 155.0,352.6 162.6,352.6 175.1,360.0 187.6,370.1 197.7,377.6 210.0,385.0 225.0,395.0 237.6,405.0 246.3,410.0 251.4,402.6 262.0,392.0 272.0,386.0 282.0,380.0 292.0,370.0 300.0,360.0 307.0,378.0 313.0,390.0 319.0,370.0 325.2,330.0 329.6,290.6 332.9,328.0 336.0,370.0 340.0,395.0" stroke="rgb(127,127,127)" stroke-width="1.80"/>
<polyline points="59.8,423.4 67.5,411.3 75.0,403.8 82.6,398.8 95.0,392.0 110.0,385.0 125.0,372.0 135.0,362.0 145.0,352.6 160.0,345.0 172.6,340.5 181.4,342.5 190.2,357.6 197.7,371.4 205.2,382.6 212.0,400.0 217.5,412.6 230.0,422.6 243.8,432.6 252.6,425.1 262.6,405.0 266.4,402.6 275.0,395.0 285.0,385.0 295.0,378.0 305.0,390.0 312.0,370.0 320.0,395.0 328.0,375.0 336.0,392.0" stroke="rgb(158,218,229)" stroke-width="1.60"/>
<polyline points="60.0,384.3 68.4,376.0 75.1,384.3 85.0,390.0 95.0,395.0 110.0,398.0 125.0,395.0 135.0,390.0 145.0,386.4 157.6,366.3 167.6,356.3 176.4,352.6 183.9,353.8 190.2,367.6 197.7,385.1 205.2,395.0 210.2,406.3 216.5,410.0 218.8,412.6 225.0,405.0 235.0,395.0 245.0,385.0 255.0,380.0 265.0,375.0 275.0,383.0 285.0,392.0 295.0,405.0 303.0,420.0 310.0,400.0 316.0,430.0 322.0,390.0 328.0,410.0 334.0,380.0 340.0,395.0" stroke="rgb(214,39,40)" stroke-width="1.80"/>
<polyline points="59.5,392.5 70.0,396.0 85.0,390.0 100.0,394.0 115.0,390.0 130.0,388.0 147.5,378.9 157.6,362.6 167.6,355.0 175.1,352.0 183.9,355.0 192.7,362.6 202.7,376.4 212.7,386.4 225.0,392.0 240.0,388.0 255.0,385.0 268.9,392.0 276.4,412.6 281.4,411.3 290.0,395.0 298.0,375.0 305.0,368.0 312.0,385.0 320.0,372.0 328.0,368.0 336.0,380.0 342.0,375.0" stroke="rgb(0,155,100)" stroke-width="1.80"/>
<polyline points="60.9,379.3 64.2,384.3 75.0,390.0 90.0,386.0 105.0,382.0 118.0,380.0 130.0,376.4 145.0,376.4 152.6,383.9 162.6,381.4 175.1,376.4 181.4,386.4 183.9,395.0 195.2,390.0 205.0,384.0 212.5,395.0 220.0,407.6 227.5,392.5 235.0,385.0 237.6,385.1 247.6,352.0 255.1,350.5 262.6,365.1 270.2,375.1 275.2,390.0 280.2,412.6 284.4,427.6 290.2,405.0 296.0,385.0 302.0,362.0 308.0,375.0 314.0,365.0 320.0,395.0 326.0,370.0 332.0,362.0 338.0,392.0 342.0,385.0" stroke="rgb(0,128,20)" stroke-width="1.80"/>
<polyline points="59.8,401.3 70.0,405.0 85.0,402.0 100.0,408.0 115.0,405.0 130.0,408.8 142.5,406.3 155.0,400.0 170.0,395.0 185.0,388.0 200.0,380.0 210.2,373.9 220.0,371.4 222.5,361.3 231.3,352.6 240.0,348.8 250.0,351.3 260.0,356.3 270.0,361.3 278.0,375.0 285.2,400.0 292.7,425.1 297.3,440.0 304.7,473.5 310.9,452.4 315.9,440.0 322.0,400.0 330.0,360.0 339.0,328.0 342.1,314.9" stroke="rgb(152,223,138)" stroke-width="1.80"/>
<polyline points="59.3,374.8 66.7,371.8 78.0,380.0 90.0,390.0 102.0,398.0 115.0,401.3 130.0,402.0 142.5,402.6 155.0,396.3 167.6,391.3 178.9,377.6 190.2,370.1 200.2,362.6 210.2,362.6 220.0,363.8 235.0,361.3 245.0,367.6 255.0,378.0 268.0,385.0 280.0,395.0 290.2,412.6 297.7,437.6 303.0,430.0 310.0,405.0 318.0,420.0 325.0,380.0 330.0,360.0 334.0,328.0 335.1,295.0 336.2,262.0" stroke="rgb(214,39,40)" stroke-width="1.90" stroke-dasharray="3.6 2.6"/>
<polyline points="59.0,364.2 68.0,354.0 75.0,361.7 85.1,371.0 95.2,370.1 110.0,380.0 125.0,395.0 140.0,407.6 152.6,415.1 167.6,412.6 180.1,418.8 187.6,423.9 195.2,415.0 205.0,400.0 215.0,392.0 228.0,385.0 240.0,378.0 253.9,367.6 258.9,350.0 262.6,330.0 266.4,299.6 270.2,269.5 272.0,258.0 277.7,269.5 285.2,284.6 289.7,294.6 292.7,317.1 294.0,328.4 296.0,360.0 300.0,390.0 306.0,405.0 312.0,395.0 318.0,420.0 323.3,445.0 327.1,467.3 330.8,454.9 335.8,442.5" stroke="rgb(196,156,148)" stroke-width="1.90" stroke-dasharray="3.6 2.6"/>
<polyline points="64.2,368.4 70.0,377.6 76.8,381.8 83.4,381.8 95.0,385.0 110.0,390.0 125.0,388.0 140.0,392.0 155.0,388.0 170.0,392.0 185.0,390.0 191.7,391.0 203.4,386.8 215.0,388.0 230.0,385.0 245.0,390.0 258.0,384.0 270.0,388.0 282.0,380.0 290.0,385.0 296.0,360.0 299.8,330.0 306.0,301.6 309.7,319.3 313.0,350.0 317.0,395.0 322.0,380.0 326.0,410.0 329.6,440.0 333.3,467.3" stroke="rgb(31,119,180)" stroke-width="1.80"/>
</g>
</g>
<path d="M59.41 243.40v-4.60M59.41 1.20v4.60" stroke="#000" stroke-width="1.60"/>
<path d="M65.58 243.40v-4.60M65.58 1.20v4.60" stroke="#000" stroke-width="1.60"/>
<path d="M70.62 243.40v-4.60M70.62 1.20v4.60" stroke="#000" stroke-width="1.60"/>
<path d="M74.88 243.40v-4.60M74.88 1.20v4.60" stroke="#000" stroke-width="1.60"/>
<path d="M78.57 243.40v-4.60M78.57 1.20v4.60" stroke="#000" stroke-width="1.60"/>
<path d="M81.83 243.40v-4.60M81.83 1.20v4.60" stroke="#000" stroke-width="1.60"/>
<path d="M84.74 243.40v-6.60M84.74 1.20v6.60" stroke="#000" stroke-width="1.90"/>
<path d="M103.91 243.40v-4.60M103.91 1.20v4.60" stroke="#000" stroke-width="1.60"/>
<path d="M115.12 243.40v-4.60M115.12 1.20v4.60" stroke="#000" stroke-width="1.60"/>
<path d="M123.08 243.40v-4.60M123.08 1.20v4.60" stroke="#000" stroke-width="1.60"/>
<path d="M129.25 243.40v-4.60M129.25 1.20v4.60" stroke="#000" stroke-width="1.60"/>
<path d="M134.29 243.40v-4.60M134.29 1.20v4.60" stroke="#000" stroke-width="1.60"/>
<path d="M138.55 243.40v-4.60M138.55 1.20v4.60" stroke="#000" stroke-width="1.60"/>
<path d="M142.24 243.40v-4.60M142.24 1.20v4.60" stroke="#000" stroke-width="1.60"/>
<path d="M145.50 243.40v-4.60M145.50 1.20v4.60" stroke="#000" stroke-width="1.60"/>
<path d="M148.42 243.40v-6.60M148.42 1.20v6.60" stroke="#000" stroke-width="1.90"/>
<path d="M167.58 243.40v-4.60M167.58 1.20v4.60" stroke="#000" stroke-width="1.60"/>
<path d="M178.79 243.40v-4.60M178.79 1.20v4.60" stroke="#000" stroke-width="1.60"/>
<path d="M186.75 243.40v-4.60M186.75 1.20v4.60" stroke="#000" stroke-width="1.60"/>
<path d="M192.92 243.40v-4.60M192.92 1.20v4.60" stroke="#000" stroke-width="1.60"/>
<path d="M197.96 243.40v-4.60M197.96 1.20v4.60" stroke="#000" stroke-width="1.60"/>
<path d="M202.22 243.40v-4.60M202.22 1.20v4.60" stroke="#000" stroke-width="1.60"/>
<path d="M205.92 243.40v-4.60M205.92 1.20v4.60" stroke="#000" stroke-width="1.60"/>
<path d="M209.17 243.40v-4.60M209.17 1.20v4.60" stroke="#000" stroke-width="1.60"/>
<path d="M212.09 243.40v-6.60M212.09 1.20v6.60" stroke="#000" stroke-width="1.90"/>
<path d="M231.26 243.40v-4.60M231.26 1.20v4.60" stroke="#000" stroke-width="1.60"/>
<path d="M242.47 243.40v-4.60M242.47 1.20v4.60" stroke="#000" stroke-width="1.60"/>
<path d="M250.42 243.40v-4.60M250.42 1.20v4.60" stroke="#000" stroke-width="1.60"/>
<path d="M256.59 243.40v-4.60M256.59 1.20v4.60" stroke="#000" stroke-width="1.60"/>
<path d="M261.63 243.40v-4.60M261.63 1.20v4.60" stroke="#000" stroke-width="1.60"/>
<path d="M265.90 243.40v-4.60M265.90 1.20v4.60" stroke="#000" stroke-width="1.60"/>
<path d="M269.59 243.40v-4.60M269.59 1.20v4.60" stroke="#000" stroke-width="1.60"/>
<path d="M272.85 243.40v-4.60M272.85 1.20v4.60" stroke="#000" stroke-width="1.60"/>
<path d="M275.76 243.40v-6.60M275.76 1.20v6.60" stroke="#000" stroke-width="1.90"/>
<path d="M294.93 243.40v-4.60M294.93 1.20v4.60" stroke="#000" stroke-width="1.60"/>
<path d="M306.14 243.40v-4.60M306.14 1.20v4.60" stroke="#000" stroke-width="1.60"/>
<path d="M314.09 243.40v-4.60M314.09 1.20v4.60" stroke="#000" stroke-width="1.60"/>
<path d="M320.27 243.40v-4.60M320.27 1.20v4.60" stroke="#000" stroke-width="1.60"/>
<path d="M325.31 243.40v-4.60M325.31 1.20v4.60" stroke="#000" stroke-width="1.60"/>
<path d="M329.57 243.40v-4.60M329.57 1.20v4.60" stroke="#000" stroke-width="1.60"/>
<path d="M333.26 243.40v-4.60M333.26 1.20v4.60" stroke="#000" stroke-width="1.60"/>
<path d="M336.52 243.40v-4.60M336.52 1.20v4.60" stroke="#000" stroke-width="1.60"/>
<path d="M339.43 243.40v-6.60M339.43 1.20v6.60" stroke="#000" stroke-width="1.90"/>
<path d="M51.45 234.70h4.60M358.60 234.70h-4.60" stroke="#000" stroke-width="1.60"/>
<path d="M51.45 227.60h4.60M358.60 227.60h-4.60" stroke="#000" stroke-width="1.60"/>
<path d="M51.45 221.59h4.60M358.60 221.59h-4.60" stroke="#000" stroke-width="1.60"/>
<path d="M51.45 216.39h4.60M358.60 216.39h-4.60" stroke="#000" stroke-width="1.60"/>
<path d="M51.45 211.80h4.60M358.60 211.80h-4.60" stroke="#000" stroke-width="1.60"/>
<path d="M51.45 207.69h6.60M358.60 207.69h-6.60" stroke="#000" stroke-width="1.90"/>
<path d="M51.45 180.68h4.60M358.60 180.68h-4.60" stroke="#000" stroke-width="1.60"/>
<path d="M51.45 164.87h4.60M358.60 164.87h-4.60" stroke="#000" stroke-width="1.60"/>
<path d="M51.45 153.66h4.60M358.60 153.66h-4.60" stroke="#000" stroke-width="1.60"/>
<path d="M51.45 144.97h4.60M358.60 144.97h-4.60" stroke="#000" stroke-width="1.60"/>
<path d="M51.45 137.86h4.60M358.60 137.86h-4.60" stroke="#000" stroke-width="1.60"/>
<path d="M51.45 131.85h4.60M358.60 131.85h-4.60" stroke="#000" stroke-width="1.60"/>
<path d="M51.45 126.65h4.60M358.60 126.65h-4.60" stroke="#000" stroke-width="1.60"/>
<path d="M51.45 122.06h4.60M358.60 122.06h-4.60" stroke="#000" stroke-width="1.60"/>
<path d="M51.45 117.95h6.60M358.60 117.95h-6.60" stroke="#000" stroke-width="1.90"/>
<path d="M51.45 90.94h4.60M358.60 90.94h-4.60" stroke="#000" stroke-width="1.60"/>
<path d="M51.45 75.14h4.60M358.60 75.14h-4.60" stroke="#000" stroke-width="1.60"/>
<path d="M51.45 63.92h4.60M358.60 63.92h-4.60" stroke="#000" stroke-width="1.60"/>
<path d="M51.45 55.23h4.60M358.60 55.23h-4.60" stroke="#000" stroke-width="1.60"/>
<path d="M51.45 48.12h4.60M358.60 48.12h-4.60" stroke="#000" stroke-width="1.60"/>
<path d="M51.45 42.11h4.60M358.60 42.11h-4.60" stroke="#000" stroke-width="1.60"/>
<path d="M51.45 36.91h4.60M358.60 36.91h-4.60" stroke="#000" stroke-width="1.60"/>
<path d="M51.45 32.32h4.60M358.60 32.32h-4.60" stroke="#000" stroke-width="1.60"/>
<path d="M51.45 28.21h6.60M358.60 28.21h-6.60" stroke="#000" stroke-width="1.90"/>
<path d="M59.83 507.00v-4.60M59.83 265.50v4.60" stroke="#000" stroke-width="1.60"/>
<path d="M66.91 507.00v-4.60M66.91 265.50v4.60" stroke="#000" stroke-width="1.60"/>
<path d="M73.05 507.00v-4.60M73.05 265.50v4.60" stroke="#000" stroke-width="1.60"/>
<path d="M78.46 507.00v-4.60M78.46 265.50v4.60" stroke="#000" stroke-width="1.60"/>
<path d="M83.30 507.00v-6.60M83.30 265.50v6.60" stroke="#000" stroke-width="1.90"/>
<path d="M115.15 507.00v-4.60M115.15 265.50v4.60" stroke="#000" stroke-width="1.60"/>
<path d="M133.78 507.00v-4.60M133.78 265.50v4.60" stroke="#000" stroke-width="1.60"/>
<path d="M147.00 507.00v-4.60M147.00 265.50v4.60" stroke="#000" stroke-width="1.60"/>
<path d="M157.25 507.00v-4.60M157.25 265.50v4.60" stroke="#000" stroke-width="1.60"/>
<path d="M165.63 507.00v-4.60M165.63 265.50v4.60" stroke="#000" stroke-width="1.60"/>
<path d="M172.71 507.00v-4.60M172.71 265.50v4.60" stroke="#000" stroke-width="1.60"/>
<path d="M178.85 507.00v-4.60M178.85 265.50v4.60" stroke="#000" stroke-width="1.60"/>
<path d="M184.26 507.00v-4.60M184.26 265.50v4.60" stroke="#000" stroke-width="1.60"/>
<path d="M189.10 507.00v-6.60M189.10 265.50v6.60" stroke="#000" stroke-width="1.90"/>
<path d="M220.95 507.00v-4.60M220.95 265.50v4.60" stroke="#000" stroke-width="1.60"/>
<path d="M239.58 507.00v-4.60M239.58 265.50v4.60" stroke="#000" stroke-width="1.60"/>
<path d="M252.80 507.00v-4.60M252.80 265.50v4.60" stroke="#000" stroke-width="1.60"/>
<path d="M263.05 507.00v-4.60M263.05 265.50v4.60" stroke="#000" stroke-width="1.60"/>
<path d="M271.43 507.00v-4.60M271.43 265.50v4.60" stroke="#000" stroke-width="1.60"/>
<path d="M278.51 507.00v-4.60M278.51 265.50v4.60" stroke="#000" stroke-width="1.60"/>
<path d="M284.65 507.00v-4.60M284.65 265.50v4.60" stroke="#000" stroke-width="1.60"/>
<path d="M290.06 507.00v-4.60M290.06 265.50v4.60" stroke="#000" stroke-width="1.60"/>
<path d="M294.90 507.00v-6.60M294.90 265.50v6.60" stroke="#000" stroke-width="1.90"/>
<path d="M326.75 507.00v-4.60M326.75 265.50v4.60" stroke="#000" stroke-width="1.60"/>
<path d="M345.38 507.00v-4.60M345.38 265.50v4.60" stroke="#000" stroke-width="1.60"/>
<path d="M51.45 466.75h6.60M358.60 466.75h-6.60" stroke="#000" stroke-width="1.90"/>
<path d="M51.45 426.50h6.60M358.60 426.50h-6.60" stroke="#000" stroke-width="1.90"/>
<path d="M51.45 386.25h6.60M358.60 386.25h-6.60" stroke="#000" stroke-width="1.90"/>
<path d="M51.45 346.00h6.60M358.60 346.00h-6.60" stroke="#000" stroke-width="1.90"/>
<path d="M51.45 305.75h6.60M358.60 305.75h-6.60" stroke="#000" stroke-width="1.90"/>
<rect x="51.45" y="1.20" width="307.15" height="242.20" fill="none" stroke="#000" stroke-width="2.30"/>
<rect x="51.45" y="265.50" width="307.15" height="241.50" fill="none" stroke="#000" stroke-width="2.30"/>
<text x="71.34" y="260.00" font-family="DejaVu Sans, Liberation Sans, sans-serif" stroke="#000" stroke-width="0.3" font-size="12">10<tspan dy="-6.4" dx="0.3" font-size="8.6">-1</tspan></text>
<text x="136.02" y="260.00" font-family="DejaVu Sans, Liberation Sans, sans-serif" stroke="#000" stroke-width="0.3" font-size="12">10<tspan dy="-6.4" dx="0.3" font-size="8.6">0</tspan></text>
<text x="199.69" y="260.00" font-family="DejaVu Sans, Liberation Sans, sans-serif" stroke="#000" stroke-width="0.3" font-size="12">10<tspan dy="-6.4" dx="0.3" font-size="8.6">1</tspan></text>
<text x="263.36" y="260.00" font-family="DejaVu Sans, Liberation Sans, sans-serif" stroke="#000" stroke-width="0.3" font-size="12">10<tspan dy="-6.4" dx="0.3" font-size="8.6">2</tspan></text>
<text x="327.03" y="260.00" font-family="DejaVu Sans, Liberation Sans, sans-serif" stroke="#000" stroke-width="0.3" font-size="12">10<tspan dy="-6.4" dx="0.3" font-size="8.6">3</tspan></text>
<text x="71.00" y="523.60" font-family="DejaVu Sans, Liberation Sans, sans-serif" stroke="#000" stroke-width="0.3" font-size="12">10<tspan dy="-5.9" dx="0.3" font-size="8.6">0</tspan></text>
<text x="176.80" y="523.60" font-family="DejaVu Sans, Liberation Sans, sans-serif" stroke="#000" stroke-width="0.3" font-size="12">10<tspan dy="-5.9" dx="0.3" font-size="8.6">1</tspan></text>
<text x="282.60" y="523.60" font-family="DejaVu Sans, Liberation Sans, sans-serif" stroke="#000" stroke-width="0.3" font-size="12">10<tspan dy="-5.9" dx="0.3" font-size="8.6">2</tspan></text>
<text x="22.00" y="212.19" font-family="DejaVu Sans, Liberation Sans, sans-serif" stroke="#000" stroke-width="0.3" font-size="12">10<tspan dy="-6.4" dx="0.3" font-size="8.6">7</tspan></text>
<text x="22.00" y="122.45" font-family="DejaVu Sans, Liberation Sans, sans-serif" stroke="#000" stroke-width="0.3" font-size="12">10<tspan dy="-6.4" dx="0.3" font-size="8.6">8</tspan></text>
<text x="22.00" y="32.71" font-family="DejaVu Sans, Liberation Sans, sans-serif" stroke="#000" stroke-width="0.3" font-size="12">10<tspan dy="-6.4" dx="0.3" font-size="8.6">9</tspan></text>
<text x="48.2" y="511.00" font-family="DejaVu Sans, Liberation Sans, sans-serif" stroke="#000" stroke-width="0.3" font-size="12" text-anchor="end">−0.3</text>
<text x="48.2" y="470.75" font-family="DejaVu Sans, Liberation Sans, sans-serif" stroke="#000" stroke-width="0.3" font-size="12" text-anchor="end">−0.2</text>
<text x="48.2" y="430.50" font-family="DejaVu Sans, Liberation Sans, sans-serif" stroke="#000" stroke-width="0.3" font-size="12" text-anchor="end">−0.1</text>
<text x="48.2" y="390.25" font-family="DejaVu Sans, Liberation Sans, sans-serif" stroke="#000" stroke-width="0.3" font-size="12" text-anchor="end">0.0</text>
<text x="48.2" y="350.00" font-family="DejaVu Sans, Liberation Sans, sans-serif" stroke="#000" stroke-width="0.3" font-size="12" text-anchor="end">0.1</text>
<text x="48.2" y="309.75" font-family="DejaVu Sans, Liberation Sans, sans-serif" stroke="#000" stroke-width="0.3" font-size="12" text-anchor="end">0.2</text>
<text x="48.2" y="269.50" font-family="DejaVu Sans, Liberation Sans, sans-serif" stroke="#000" stroke-width="0.3" font-size="12" text-anchor="end">0.3</text>
<text x="204.4" y="539.6" font-family="Liberation Serif, DejaVu Serif, serif" font-size="16" text-anchor="middle" textLength="44.2" lengthAdjust="spacing">r (kpc)</text>
<g transform="translate(14.4 176.2) rotate(-90)" font-family="Liberation Serif, DejaVu Serif, serif">
<text x="-0.20" y="0.00" font-size="16.0" >r</text>
<text x="6.00" y="-7.20" font-size="10.0" >2</text>
<text x="16.50" y="0.00" font-size="16.0" font-style="italic">ρ</text>
<text x="28.60" y="0.00" font-size="16.0" >(</text>
<text x="33.70" y="0.00" font-size="16.0" >M</text>
<text x="49.20" y="4.20" font-size="11.0" font-family="DejaVu Sans, sans-serif">⊙</text>
<text x="61.6 69.4 78.3" y="0" font-size="16">kpc</text>
<text x="86.60" y="-6.20" font-size="11.5" >−</text>
<text x="94.40" y="-6.60" font-size="11.5" >1</text>
<text x="102.80" y="0.00" font-size="16.0" >)</text>
</g>
<g transform="translate(12.6 403.9) rotate(-90)" font-family="Liberation Serif, DejaVu Serif, serif">
<text x="0.00" y="0.00" font-size="16.0" font-style="italic">δ</text>
<text x="10.2 14.3" y="0" font-size="16">ln</text>
<text x="27.80" y="0.00" font-size="16.0" font-style="italic">ρ</text>
</g></svg></body></html>
